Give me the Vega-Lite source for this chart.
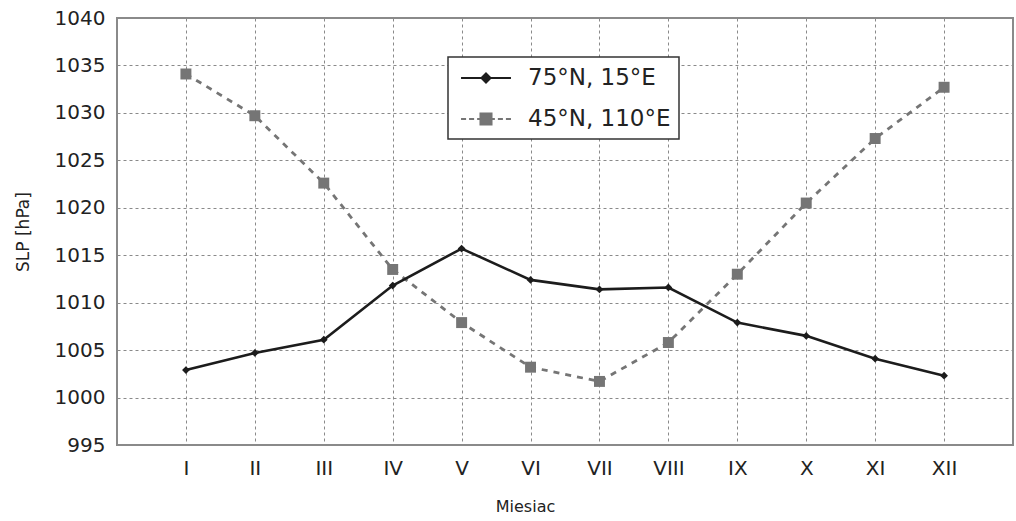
{
  "$schema": "https://vega.github.io/schema/vega-lite/v6.json",
  "width": 896,
  "height": 427,
  "autosize": {"type": "none"},
  "padding": {"left": 117, "top": 18, "right": 3, "bottom": 76},
  "background": "white",
  "config": {
    "font": "DejaVu Sans",
    "view": {"stroke": "#8a8a8a", "strokeWidth": 2},
    "axis": {
      "labelFont": "DejaVu Sans",
      "titleFont": "DejaVu Sans",
      "labelFontSize": 20,
      "titleFontSize": 17,
      "labelColor": "#222",
      "titleColor": "#222",
      "titleFontWeight": "normal",
      "domain": false,
      "ticks": false,
      "gridColor": "#8a8a8a",
      "gridDash": [3, 3],
      "gridWidth": 1,
      "gridOpacity": 1
    },
    "legend": {
      "labelFont": "DejaVu Sans",
      "labelFontSize": 23,
      "labelColor": "#222",
      "strokeWidth": 1.5
    }
  },
  "data": {
    "values": [
      {"m": "I", "s": "75°N, 15°E", "v": 1002.9},
      {"m": "II", "s": "75°N, 15°E", "v": 1004.7},
      {"m": "III", "s": "75°N, 15°E", "v": 1006.1},
      {"m": "IV", "s": "75°N, 15°E", "v": 1011.8},
      {"m": "V", "s": "75°N, 15°E", "v": 1015.7},
      {"m": "VI", "s": "75°N, 15°E", "v": 1012.4},
      {"m": "VII", "s": "75°N, 15°E", "v": 1011.4},
      {"m": "VIII", "s": "75°N, 15°E", "v": 1011.6},
      {"m": "IX", "s": "75°N, 15°E", "v": 1007.9},
      {"m": "X", "s": "75°N, 15°E", "v": 1006.5},
      {"m": "XI", "s": "75°N, 15°E", "v": 1004.1},
      {"m": "XII", "s": "75°N, 15°E", "v": 1002.3},
      {"m": "I", "s": "45°N, 110°E", "v": 1034.1},
      {"m": "II", "s": "45°N, 110°E", "v": 1029.7},
      {"m": "III", "s": "45°N, 110°E", "v": 1022.6},
      {"m": "IV", "s": "45°N, 110°E", "v": 1013.5},
      {"m": "V", "s": "45°N, 110°E", "v": 1007.9},
      {"m": "VI", "s": "45°N, 110°E", "v": 1003.2},
      {"m": "VII", "s": "45°N, 110°E", "v": 1001.7},
      {"m": "VIII", "s": "45°N, 110°E", "v": 1005.8},
      {"m": "IX", "s": "45°N, 110°E", "v": 1013.0},
      {"m": "X", "s": "45°N, 110°E", "v": 1020.5},
      {"m": "XI", "s": "45°N, 110°E", "v": 1027.3},
      {"m": "XII", "s": "45°N, 110°E", "v": 1032.7}
    ]
  },
  "encoding": {
    "x": {
      "field": "m", "type": "ordinal",
      "sort": ["I","II","III","IV","V","VI","VII","VIII","IX","X","XI","XII"],
      "scale": {"type": "point", "padding": 1},
      "axis": {"title": "Miesiac", "labelAngle": 0, "labelPadding": 13, "titlePadding": 20, "titleX": 408, "titleAlign": "center", "titleFontSize": 16, "grid": true}
    },
    "y": {
      "field": "v", "type": "quantitative",
      "scale": {"domain": [995, 1040], "nice": false, "zero": false},
      "axis": {"title": "SLP [hPa]", "format": "d", "values": [995,1000,1005,1010,1015,1020,1025,1030,1035,1040], "labelPadding": 12, "titlePadding": 22, "grid": true}
    }
  },
  "layer": [
    {
      "transform": [{"filter": "datum.s == '45°N, 110°E'"}],
      "mark": {"type": "line", "strokeWidth": 2.8, "color": "#757575", "strokeDash": [6, 6]}
    },
    {
      "transform": [{"filter": "datum.s == '75°N, 15°E'"}],
      "mark": {"type": "line", "strokeWidth": 2.6, "color": "#1c1c1c"}
    },
    {
      "transform": [{"filter": "datum.s == '75°N, 15°E'"}],
      "mark": {"type": "point", "filled": true, "opacity": 1, "shape": "diamond", "size": 60, "color": "#1c1c1c"}
    },
    {
      "transform": [{"filter": "datum.s == '45°N, 110°E'"}],
      "mark": {"type": "point", "filled": true, "opacity": 1, "shape": "square", "size": 120, "color": "#757575"}
    },
    {
      "mark": {"type": "point", "opacity": 0},
      "encoding": {
        "fill": {"field": "s", "type": "nominal",
          "scale": {"domain": ["75°N, 15°E", "45°N, 110°E"], "range": ["#1c1c1c", "#757575"]},
          "legend": {"title": null, "orient": "none", "legendX": 331, "legendY": 39, "strokeColor": "#333", "fillColor": "white", "padding": 8, "symbolSize": 576, "symbolStrokeWidth": 2, "symbolOpacity": 1, "symbolOffset": 17, "labelOffset": 29, "rowPadding": 16}},
        "stroke": {"field": "s", "type": "nominal",
          "scale": {"domain": ["75°N, 15°E", "45°N, 110°E"], "range": ["#1c1c1c", "#757575"]},
          "legend": {"title": null, "orient": "none", "legendX": 331, "legendY": 39, "strokeColor": "#333", "fillColor": "white", "padding": 8, "symbolSize": 576, "symbolStrokeWidth": 2, "symbolOpacity": 1, "symbolOffset": 17, "labelOffset": 29, "rowPadding": 16}},
        "shape": {"field": "s", "type": "nominal",
          "scale": {"domain": ["75°N, 15°E", "45°N, 110°E"], "range": ["M-2.08,0H2.08M0,-0.38L0.38,0L0,0.38L-0.38,0Z", "M-2.08,0H-1.66M-1.41,0H-0.99M-0.74,0H-0.46M0.46,0H0.74M0.99,0H1.41M1.66,0H2.08M-0.46,-0.46H0.46V0.46H-0.46Z"]},
          "legend": {"title": null, "orient": "none", "legendX": 331, "legendY": 39, "strokeColor": "#333", "fillColor": "white", "padding": 8, "symbolSize": 576, "symbolStrokeWidth": 2, "symbolOpacity": 1, "symbolOffset": 17, "labelOffset": 29, "rowPadding": 16}}
      }
    }
  ]
}
